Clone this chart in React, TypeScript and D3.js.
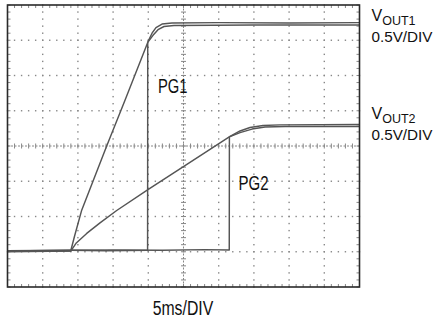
import React from 'react';
import * as d3 from 'd3';

const W = 435;
const H = 320;

// time in ms (5ms/DIV), voltage in V (0.5V/DIV)
const timeDomain: [number, number] = [0, 50];
const voltDomain: [number, number] = [-0.5, 3.5];
const majorTimes = d3.range(0, 50.001, 5);
const majorVolts = d3.range(-0.5, 3.5001, 0.5);

const vout1: [number, number][] = [
  [0, 0.0], [8.98, 0.01], [9.52, 0.22], [10.54, 0.59], [14.09, 1.5], [16.69, 2.15],
  [19.96, 2.98], [20.53, 3.1], [21.09, 3.18], [21.95, 3.23], [23.37, 3.245],
  [30, 3.25], [40, 3.245], [49.93, 3.25],
];
const pg1: [number, number][] = [
  [0, 0.01], [8.98, 0.02], [14, 0.015], [19.9, 0.02], [19.92, 2.97], [20.67, 3.07],
  [21.38, 3.15], [22.23, 3.195], [23.65, 3.21], [35, 3.215], [49.93, 3.215],
];
const vout2: [number, number][] = [
  [0, 0.005], [8.98, 0.01], [9.73, 0.12], [11.25, 0.26], [13.14, 0.41], [15.51, 0.585],
  [20.0, 0.886], [25.92, 1.267], [31.61, 1.635], [33.03, 1.713], [34.45, 1.762],
  [36.3, 1.79], [38.71, 1.8], [49.93, 1.805],
];
const pg2: [number, number][] = [
  [0, 0.015], [8.98, 0.02], [15, 0.025], [22, 0.02], [28, 0.03], [31.5, 0.025],
  [31.52, 1.63], [33.03, 1.69], [34.73, 1.74], [36.58, 1.77], [39.42, 1.777], [49.93, 1.777],
];

const xLabel = '5ms/DIV';
const scaleLabel = '0.5V/DIV';
const channelLabels = [
  { main: 'V', sub: 'OUT1' },
  { main: 'V', sub: 'OUT2' },
];
const pgLabels = ['PG1', 'PG2'];

const FONT = "'Liberation Sans Narrow', 'Arial Narrow', 'Liberation Sans', Arial, sans-serif";

export default function App() {
  const left = 7.5, right = 359.5, top = 5, bottom = 287;
  const x = d3.scaleLinear().domain(timeDomain).range([left, right]);
  const y = d3.scaleLinear().domain(voltDomain).range([bottom, top]);
  const line = d3.line<[number, number]>().x((d) => x(d[0])).y((d) => y(d[1]));

  const minorTimes = d3.range(0, 50.001, 1);
  const minorVolts = d3.range(-0.5, 3.5001, 0.1);
  const centerT = 25;
  const centerV = 1.5;
  const dotColor = '#888';

  const dots: JSX.Element[] = [];
  majorTimes.forEach((t, i) => {
    if (i === 0 || i === majorTimes.length - 1 || Math.abs(t - centerT) < 1e-6) return;
    minorVolts.forEach((v, j) => {
      dots.push(<rect key={`vx${i}-${j}`} x={x(t) - 0.7} y={y(v) - 0.7} width={1.4} height={1.4} fill={dotColor} />);
    });
  });
  majorVolts.forEach((v, i) => {
    if (i === 0 || i === majorVolts.length - 1 || Math.abs(v - centerV) < 1e-6) return;
    minorTimes.forEach((t, j) => {
      dots.push(<rect key={`hy${i}-${j}`} x={x(t) - 0.7} y={y(v) - 0.7} width={1.4} height={1.4} fill={dotColor} />);
    });
  });

  const ticks: JSX.Element[] = [];
  minorTimes.forEach((t, j) => {
    ticks.push(<line key={`tt${j}`} x1={x(t)} x2={x(t)} y1={top} y2={top + 3} stroke={dotColor} strokeWidth={1} />);
    ticks.push(<line key={`tb${j}`} x1={x(t)} x2={x(t)} y1={bottom} y2={bottom - 3} stroke={dotColor} strokeWidth={1} />);
    ticks.push(<line key={`tc${j}`} x1={x(t)} x2={x(t)} y1={y(centerV) - 2.5} y2={y(centerV) + 2.5} stroke={dotColor} strokeWidth={1} />);
  });
  minorVolts.forEach((v, j) => {
    ticks.push(<line key={`tl${j}`} x1={left} x2={left + 3} y1={y(v)} y2={y(v)} stroke={dotColor} strokeWidth={1} />);
    ticks.push(<line key={`tr${j}`} x1={right} x2={right - 3} y1={y(v)} y2={y(v)} stroke={dotColor} strokeWidth={1} />);
    ticks.push(<line key={`tcv${j}`} x1={x(centerT) - 2.5} x2={x(centerT) + 2.5} y1={y(v)} y2={y(v)} stroke={dotColor} strokeWidth={1} />);
  });

  const traceColor = '#555';

  return (
    <svg width={W} height={H} style={{ position: 'absolute', left: 0, top: 0, display: 'block', background: '#fff' }}>
      <rect x={0} y={0} width={W} height={H} fill="#fff" />
      <g>{dots}</g>
      <line x1={left} x2={right} y1={y(centerV)} y2={y(centerV)} stroke={dotColor} strokeWidth={1} strokeDasharray="2,1.5" />
      <line x1={x(centerT)} x2={x(centerT)} y1={top} y2={bottom} stroke={dotColor} strokeWidth={1} strokeDasharray="2,1.5" />
      <g>{ticks}</g>
      <g fill="none" stroke={traceColor} strokeWidth={1.45} strokeLinejoin="round">
        <path d={line(pg2) || ''} />
        <path d={line(pg1) || ''} />
        <path d={line(vout2) || ''} />
        <path d={line(vout1) || ''} />
      </g>
      <rect x={left} y={top} width={right - left} height={bottom - top} fill="none" stroke="#2a2a2a" strokeWidth={1.6} />
      <g fontFamily={FONT} fill="#111">
        <text x={158} y={93} fontSize={20} textLength={29.5} lengthAdjust="spacingAndGlyphs">{pgLabels[0]}</text>
        <text x={238.5} y={189.5} fontSize={20} textLength={30} lengthAdjust="spacingAndGlyphs">{pgLabels[1]}</text>
        <text x={152.7} y={315} fontSize={20} textLength={60.5} lengthAdjust="spacingAndGlyphs">{xLabel}</text>
        {channelLabels.map((c, i) => {
          const base = i === 0 ? 20.5 : 118.5;
          return (
            <g key={c.sub}>
              <text x={371.5} y={base} fontSize={16}>
                {c.main}
                <tspan fontSize={12.5} dy={4}>{c.sub}</tspan>
              </text>
              <text x={371.5} y={base + 21} fontSize={15.5} textLength={61} lengthAdjust="spacingAndGlyphs">{scaleLabel}</text>
            </g>
          );
        })}
      </g>
    </svg>
  );
}
